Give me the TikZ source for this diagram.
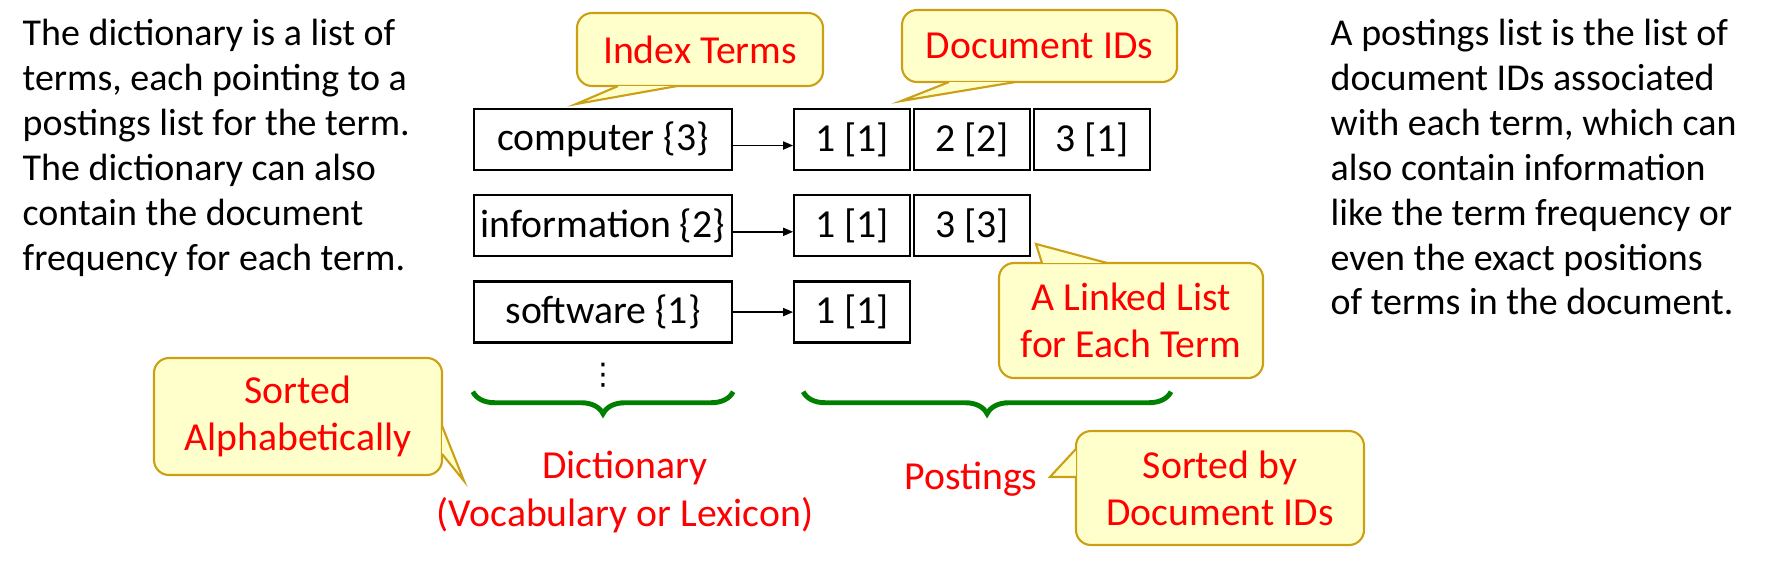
\documentclass[tikz,border=0pt]{standalone}
\usepackage{fontspec}
\setmainfont{Carlito}
\newfontfamily\symfont{DejaVu Sans}
\usetikzlibrary{positioning, arrows.meta, calc, decorations.pathreplacing}

\definecolor{bubblefill}{RGB}{255,255,204}
\definecolor{bubbleline}{RGB}{204,160,20}
\definecolor{bracegreen}{RGB}{0,128,0}

\begin{document}
\begin{tikzpicture}[
    node distance=0.23cm,
    term/.style={rectangle, draw, line width=0.65pt, minimum width=2.58cm, minimum height=0.61cm, inner sep=0pt, font=\fontsize{11.3}{13.5}\selectfont},
    posting/.style={term, minimum width=1.16cm},
    note/.style={align=left, inner sep=0pt, font=\fontsize{10.8}{12.8}\selectfont},
    bubble/.style={rectangle, draw=bubbleline, fill=bubblefill, line width=0.6pt, rounded corners=0.15cm, text=red, align=center, inner sep=0pt, font=\fontsize{11.3}{13.3}\selectfont},
    pointer/.style={draw=bubbleline, fill=bubblefill, line width=0.6pt},
    redlabel/.style={text=red, align=center, inner sep=0pt, font=\fontsize{11.3}{13.5}\selectfont},
    arrow/.style={-{Triangle[length=0.1cm, width=0.08cm]}, line width=0.5pt},
    brace/.style={decorate, decoration={brace, mirror, amplitude=0.22cm}, draw=bracegreen, line width=1.4pt},
]
\useasboundingbox (0,0) rectangle (17.70,-5.62);

%% NODES
    % side notes
    \node[note, anchor=north west] (dictnote) at (0.22,-0.18) {The dictionary is a list of\\terms, each pointing to a\\postings list for the term.\\The dictionary can also\\contain the document\\frequency for each term.};
    \node[note, anchor=north west] (postnote) at (13.30,-0.18) {A postings list is the list of\\document IDs associated\\with each term, which can\\also contain information\\like the term frequency or\\even the exact positions\\of terms in the document.};

    % dictionary
    \node[term] (computer) at (6.03,-1.395) {computer \{3\}};
    \node[term, below=of computer] (information) {information \{2\}};
    \node[term, below=of information] (software) {software \{1\}};
    \node[anchor=south, inner sep=0pt, font=\symfont\fontsize{8.5}{10}\selectfont] (vdots) at ([yshift=-0.44cm]software.south) {⋮};

    % postings
    \node[posting, right=0.6cm of computer] (computer1) {1 [1]};
    \node[posting, right=0.015cm of computer1] (computer2) {2 [2]};
    \node[posting, right=0.015cm of computer2] (computer3) {3 [1]};
    \node[posting, right=0.6cm of information] (information1) {1 [1]};
    \node[posting, right=0.015cm of information1] (information3) {3 [3]};
    \node[posting, right=0.6cm of software] (software1) {1 [1]};

    % labels
    \node[redlabel] (dictlabel) at (6.25,-4.92) {Dictionary\\(Vocabulary or Lexicon)};
    \node[redlabel] (postlabel) at (9.71,-4.79) {Postings};

    % callouts
    \node[bubble, minimum width=2.46cm, minimum height=0.73cm] (indexcall) at (7.00,-0.495) {Index Terms};
    \node[bubble, minimum width=2.75cm, minimum height=0.72cm] (docidcall) at (10.395,-0.46) {Document IDs};
    \node[bubble, minimum width=2.64cm, minimum height=1.15cm] (listcall) at (11.31,-3.205) {A Linked List\\for Each Term};
    \node[bubble, minimum width=2.88cm, minimum height=1.17cm] (alphacall) at (2.98,-4.165) {Sorted\\Alphabetically};
    \node[bubble, minimum width=2.88cm, minimum height=1.14cm] (sortcall) at (12.20,-4.88) {Sorted by\\Document IDs};

%% CONNECTIONS
    % dictionary -> postings
    \draw[arrow] ([yshift=-0.06cm]computer.east) -- ([yshift=-0.06cm]computer1.west);
    \draw[arrow] ([yshift=-0.06cm]information.east) -- ([yshift=-0.06cm]information1.west);
    \draw[arrow] (software) -- (software1);

    % braces
    \draw[brace] ([yshift=-0.48cm]software.south west) -- ([yshift=-0.48cm]software.south east);
    \draw[brace] ($(software1.south west)+(0.1,-0.48)$) -- ($(software1.south west -| computer3.east)+(0.2,-0.48)$);

    % callout pointers
    \filldraw[pointer] ($(indexcall.south west)+(0.42,0.01)$) -- ($(indexcall.south west)+(0,-0.17)$) -- ($(indexcall.south west)+(1.01,0.01)$);
    \filldraw[pointer] ($(docidcall.south west)+(0.48,0.01)$) -- ($(docidcall.south west)+(0,-0.18)$) -- ($(docidcall.south west)+(1.14,0.01)$);
    \filldraw[pointer] ($(listcall.north west)+(0.44,-0.01)$) -- ($(listcall.north west)+(0.38,0.18)$) -- ($(listcall.north west)+(1.09,-0.01)$);
    \filldraw[pointer] ($(alphacall.north east)+(-0.01,-0.69)$) -- ($(alphacall.south east)+(0.21,-0.05)$) -- ($(alphacall.north east)+(-0.01,-0.97)$);
    \filldraw[pointer] ($(sortcall.north west)+(0.01,-0.19)$) -- ($(sortcall.north west)+(-0.25,-0.47)$) -- ($(sortcall.north west)+(0.01,-0.47)$);

\end{tikzpicture}
\end{document}
